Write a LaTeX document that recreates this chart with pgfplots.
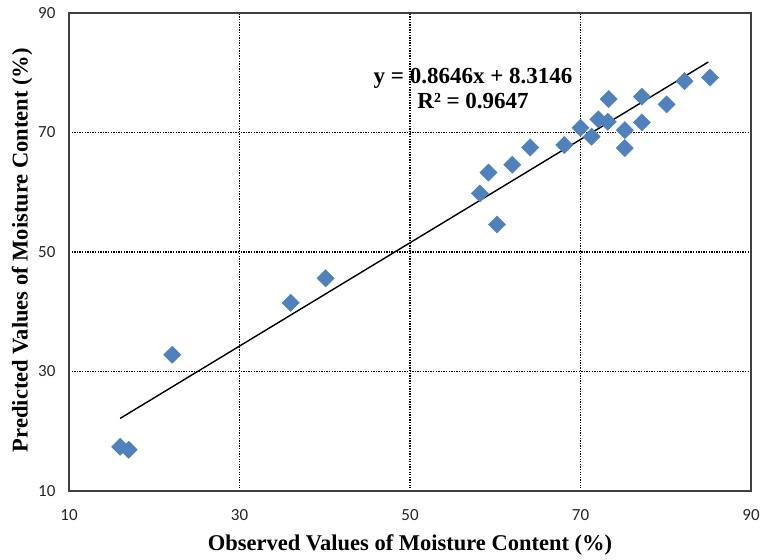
\documentclass[border=0pt]{standalone}
\usepackage{pgfplots}
\pgfplotsset{compat=1.18}
\usepackage{fontspec}
\setmainfont{Liberation Serif}
\newfontfamily\tickfont{Carlito}
\definecolor{markblue}{HTML}{4F81BD}
\definecolor{framegray}{HTML}{404040}

% observed vs. predicted moisture content (%)
\pgfplotstableread{
obs  pred
16.0 17.4
17.0 16.9
22.1 32.8
36.0 41.5
40.1 45.6
58.2 59.8
59.2 63.3
60.2 54.6
62.0 64.6
64.1 67.5
68.1 67.9
70.0 70.8
71.3 69.3
72.1 72.2
73.2 71.8
73.3 75.6
75.2 70.4
75.2 67.4
77.2 76.0
77.2 71.7
80.1 74.7
82.2 78.6
85.2 79.2
}\moisture

\begin{document}
\begin{tikzpicture}
\useasboundingbox (-69pt,-68pt) rectangle (693pt,491pt);
\begin{axis}[
  at={(0,0)}, anchor=south west,
  scale only axis, width=682pt, height=478pt,
  xmin=10, xmax=90, ymin=10, ymax=90,
  xtick={30,50,70}, ytick={30,50,70},
  extra x ticks={10,90}, extra y ticks={10,90},
  extra tick style={grid=none},
  grid=major,
  grid style={black, line width=1.3pt, dash pattern=on 1.3pt off 1.3pt},
  axis line style={draw=framegray, line width=1.3pt},
  major tick length=0pt,
  tick label style={font=\tickfont\fontsize{17}{20}\selectfont, text=black!85},
  /pgf/number format/assume math mode=true,
  xticklabel style={yshift=-15pt},
  yticklabel style={xshift=-10pt},
  label style={font=\bfseries\fontsize{22.5}{26}\selectfont},
  xlabel={Observed Values of Moisture Content (\%)},
  ylabel={Predicted Values of Moisture Content (\%)},
  xlabel style={at={(axis description cs:0.5,-0.113)}, anchor=center},
  ylabel style={at={(axis description cs:-0.0689,0.504)}, anchor=center},
  clip=false,
]
\addplot[only marks, mark=square*, mark size=6.1pt,
  mark options={rotate=45, fill=markblue, draw=markblue}]
  table[x=obs, y=pred] {\moisture};
\addplot[black, line width=1.4pt] coordinates {(16,22.1482) (85,81.8056)};
\node[font=\bfseries\fontsize{23}{25}\selectfont, align=center]
  at (axis cs:57.4,77.4) {y = 0.8646x + 8.3146\\R² = 0.9647};
\end{axis}
\end{tikzpicture}
\end{document}
